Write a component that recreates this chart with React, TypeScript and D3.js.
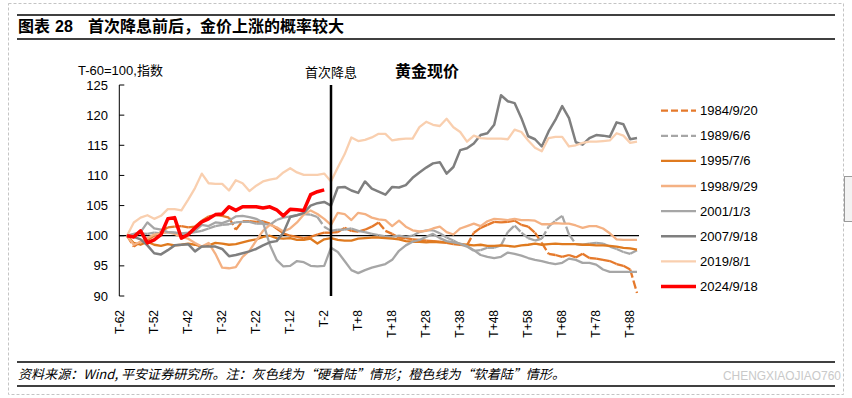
import * as d3 from "d3";
import { useRef, useEffect } from "react";

// T-60 .. T+90, one value every 2 trading days, T-60 = 100
const days = d3.range(-60, 91, 2);

const tickDays = [-62, -52, -42, -32, -22, -12, -2, 8, 18, 28, 38, 48, 58, 68, 78, 88];
const tickLabels = ["T-62", "T-52", "T-42", "T-32", "T-22", "T-12", "T-2", "T+8", "T+18", "T+28", "T+38", "T+48", "T+58", "T+68", "T+78", "T+88"];
const yTicks = [90, 95, 100, 105, 110, 115, 120, 125];

const s1984 = [
  100, 98.2, 99, 99.3, 100, 100.6, 101.4, 101.5, 101.6, 101.4,
  101.5, 102.5, 103.2, 103.4, 103.3, 103, 101, 102.4, 102.4, 102.3,
  102.4, 102, 101.2, 100.4, 100, 99.8, 99.6, 99.8, 100.2, 100.5,
  100.5, 100.6, 101.3, 100.8, 100.7, 101, 101.5, 102.2, 100.8, 100.3,
  99.7, 99.6, 99.4, 99.3, 99.2, 99.1, 99, 98.8, 98.6, 98.5,
  98.4, 100.5, 101.3, 101.8, 102.3, 102.2, 102.3, 102.5, 101.8, 101.5,
  100.5, 98.8, 97, 96.8, 96.5, 96.8, 96.4, 97, 96.3, 96.2,
  96, 95.8, 95.3, 95, 94.4, 90.5
];
const s1989 = [
  100, 100.2, 100.4, 100.3, 100.5, 100.4, 100.6, 100.5, 100.3, 100.4,
  100.6, 100.8, 101.2, 101.6, 101.8, 101.9, 102.2, 102.3, 102.3, 102,
  102, 101.8, 102.6, 103, 103.2, 103.4, 103.6, 103.5, 103.1, 101.5,
  100.8, 101, 101, 101.2, 100.8, 100.6, 100.3, 100.1, 99.9, 99.8,
  100, 99.8, 100, 100.6, 100.9, 100.9, 100.4, 99.7, 99.2, 98.6,
  98.2, 97.5, 97.6, 98, 98, 98.4, 100.6, 101.7, 100.5, 99.6,
  99.2, 99.5, 101.5, 102.5, 103.3, 100.2, 98.6, 98.5, 98.7, 98.8,
  98.7, 98.2, 97.8, 97.3, 97, 97.6
];
const s1995 = [
  100, 98.8, 98.5, 99, 98.5, 98.3, 98.6, 98.4, 98.5, 98.7,
  98.5, 98.2, 98.4, 98.8, 98.7, 98.5, 98.6, 98.9, 99.2, 99.4,
  99.8, 100, 99.6, 99.5, 99.6, 99.3, 99.3, 99.5, 98.7, 99.4,
  99.6, 99.3, 99.2, 99.2, 99.5, 99.6, 99.7, 99.7, 99.6, 99.5,
  99.4, 99.1, 99, 99, 98.9, 99, 98.9, 98.9, 98.8, 98.6,
  98.5, 98.4, 98.5, 98.3, 98.3, 98.4, 98.3, 98.2, 98.4, 98.5,
  98.7, 98.5, 98.6, 98.7, 98.6, 98.6, 98.6, 98.5, 98.5, 98.4,
  98.4, 98.3, 98.2, 98, 97.9, 97.7
];
const s1998 = [
  100, 98.5, 99, 99.6, 100.2, 100.4, 100.6, 100.3, 99.8, 99.5,
  98.8, 98.2, 98.8, 97, 94.7, 94.6, 94.8, 96.5, 97.5, 99.2,
  100.8, 101.8, 101.4, 100.7, 101.2, 102.2, 103.5, 104.2, 103.6, 102.8,
  101.8, 103.8, 103.6, 102.6, 103.8, 103.6, 103, 102.7, 102.6, 101.6,
  102.5, 101.5, 100.9, 100.7, 100.8, 101.2, 101.5, 100.6, 100.2, 101.2,
  101.6, 102, 101.6, 102.4, 102.8, 102.7, 102.6, 102.8, 102.6, 102.6,
  102.5, 101.9, 101.9, 102.1, 102, 102, 101.7, 101.3, 101.6, 101.6,
  101.2, 100.4, 99.4, 99.3, 99.3, 99.3
];
const s2001 = [
  100, 100.3, 100.6, 102.2, 101.2, 101, 100.6, 100.5, 100.4, 100.5,
  100.8, 101.8, 101.6, 102.2, 102.1, 102.5, 103.2, 103.3, 103.1, 102.8,
  102.2, 98.5, 96, 94.9, 95, 95.8, 95.6, 95, 94.9, 95,
  98, 97.3, 95.8, 94.3, 93.8, 94.3, 94.7, 95, 95.3, 96,
  97.5, 98.4, 99, 99.3, 99.8, 100.3, 99.6, 99.1, 98.9, 98.7,
  98.3, 97.6, 96.8, 96.5, 96.3, 96.5, 97.2, 97, 96.7, 96.3,
  96, 95.8, 95.5, 95.3, 95.5, 96.2, 96, 95.5, 95.5, 95.2,
  94.4, 94, 94, 94, 94, 94
];
const s2007 = [
  100, 99.8, 99.4, 98.4, 97.1, 96.9, 97.6, 98.4, 98.5, 98.6,
  97.4, 98.2, 98.2, 98.2, 97.8, 96.6, 96.8, 97.1, 97.4, 97.8,
  98.4, 98.9, 99.1, 100.5, 103.1, 103.4, 103.8, 105, 105.4, 105.6,
  105, 108, 108.1, 107.5, 107.1, 109, 107.8, 107.3, 106.8, 108.1,
  108, 108.4, 109.6, 110.5, 111.3, 112, 112.2, 110.3, 111.4, 114.2,
  114.5, 115.3, 116.7, 117, 118.4, 123.3, 122.3, 122, 119.5, 116.5,
  116, 114.8, 117.3, 119.2, 121.5, 119.5, 115.5, 115.1, 116.2, 116.7,
  116.6, 116.4, 118.8, 118.5, 116, 116.2
];
const s2019 = [
  100, 102.2, 103, 103.4, 102.8, 103.3, 104.4, 104.4, 104.2, 106,
  107.9, 110.3, 108.7, 108.6, 108.6, 107.5, 109.2, 108.7, 107.4, 108.3,
  109, 109.3, 109.5, 110.5, 111.2, 110.5, 110.1, 110.1, 110.1, 110.3,
  109, 111.3, 113.5, 116.3, 115.7, 115.9, 116.3, 116.9, 116.9, 115.8,
  116, 116.1, 116.1, 118, 118.9, 118.4, 118.2, 119.4, 118, 117.2,
  115.6, 116.6, 116.2, 116.1, 116.1, 116.1, 116, 117.6, 117.2, 115.8,
  114.6, 114, 116.2, 116.4, 116.4, 114.8, 115, 115.4, 115.6, 115.6,
  115.7, 115.8, 117, 116.6, 115.4, 115.6
];
// current cycle, only up to T-2
const s2024 = [
  100, 99.8, 100.8, 98.8, 99.3, 100.2, 102.8, 103, 99.6, 100.2,
  101.3, 102.3, 102.8, 103.5, 103.6, 104.8, 104.2, 104.8, 104.8, 104.8,
  104.6, 104.8, 104.3, 103.3, 104.4, 104.3, 104.2, 106.8, 107.3, 107.6
];

const seriesList = [
  { name: "1984/9/20", values: s1984, color: "#E5792B", dash: true, w: 2.3 },
  { name: "1989/6/6", values: s1989, color: "#A6A6A6", dash: true, w: 2.3 },
  { name: "1995/7/6", values: s1995, color: "#DF7A1F", dash: false, w: 2.3 },
  { name: "1998/9/29", values: s1998, color: "#F4B183", dash: false, w: 2.3 },
  { name: "2001/1/3", values: s2001, color: "#A6A6A6", dash: false, w: 2.3 },
  { name: "2007/9/18", values: s2007, color: "#7F7F7F", dash: false, w: 2.5 },
  { name: "2019/8/1", values: s2019, color: "#F9CFAF", dash: false, w: 2.3 },
  { name: "2024/9/18", values: s2024, color: "#FF0000", dash: false, w: 3.5 },
];

const latin = "'Liberation Sans', Arial, 'Noto Sans CJK SC', sans-serif";
const cjk = "'Noto Sans CJK SC', 'Liberation Sans', sans-serif";

const App = () => {
  const ref = useRef(null);

  useEffect(() => {
    const svg = d3.select(ref.current);
    svg.selectAll("*").remove();

    const x = d3.scaleLinear().domain([-62, 90]).range([120.2, 637]);
    const y = d3.scaleLinear().domain([90, 125]).range([296, 85]);
    const axisX = x(-62) - 0.9;

    // frame + headers
    svg.append("rect").attr("x", 8.5).attr("y", 3.5).attr("width", 835).attr("height", 391)
      .attr("fill", "none").attr("stroke", "#c4c4c4").attr("stroke-dasharray", "3,2");
    svg.append("rect").attr("x", 844.5).attr("y", 176.5).attr("width", 10).attr("height", 45)
      .attr("fill", "#f3f3f3").attr("stroke", "#9a9a9a");

    [15, 39, 362, 386].forEach(ly => {
      svg.append("line").attr("x1", 17).attr("x2", 835).attr("y1", ly).attr("y2", ly)
        .attr("stroke", "#000").attr("stroke-width", 1.5);
    });

    const title = svg.append("g").style("font-family", cjk).style("font-weight", "bold")
      .style("font-size", "16px").attr("fill", "#000");
    title.append("text").attr("x", 18).attr("y", 32).text("图表");
    title.append("text").attr("x", 55).attr("y", 32).style("font-family", latin).text("28");
    title.append("text").attr("x", 88).attr("y", 32).text("首次降息前后，金价上涨的概率较大");

    svg.append("text").attr("x", 18).attr("y", 379).style("font-family", cjk)
      .style("font-size", "13px").style("font-style", "italic")
      .attr("textLength", 547).attr("lengthAdjust", "spacingAndGlyphs")
      .text("资料来源：Wind, 平安证券研究所。注：灰色线为“硬着陆”情形；橙色线为“软着陆”情形。");
    svg.append("text").attr("x", 723).attr("y", 380).style("font-family", latin)
      .style("font-size", "12px").attr("fill", "#c9c9c9")
      .attr("textLength", 118).attr("lengthAdjust", "spacingAndGlyphs")
      .text("CHENGXIAOJIAO760");

    // y axis
    svg.append("line").attr("x1", axisX).attr("x2", axisX).attr("y1", y(125)).attr("y2", y(90))
      .attr("stroke", "#000").attr("stroke-width", 1);
    yTicks.forEach(t => {
      svg.append("line").attr("x1", axisX).attr("x2", axisX + 5).attr("y1", y(t)).attr("y2", y(t))
        .attr("stroke", "#000").attr("stroke-width", 1);
      svg.append("text").attr("x", 108).attr("y", y(t)).attr("text-anchor", "end")
        .attr("dominant-baseline", "central").style("font-family", latin).style("font-size", "13px")
        .text(t);
    });

    // category axis crosses at 100
    svg.append("line").attr("x1", axisX).attr("x2", 639).attr("y1", y(100)).attr("y2", y(100))
      .attr("stroke", "#000").attr("stroke-width", 1.2);

    tickDays.forEach((d, i) => {
      svg.append("text")
        .attr("transform", `translate(${x(d)},${310}) rotate(-90)`)
        .attr("text-anchor", "end").attr("dominant-baseline", "central")
        .style("font-family", latin).style("font-size", "12px")
        .text(tickLabels[i]);
    });

    // series
    const line = d3.line().x((d, i) => x(days[i])).y(d => y(d));
    seriesList.forEach(s => {
      if (s.dash) {
        // dash pattern restarts on every segment, like the source
        const segs = d3.pairs(s.values.map((v, i) => [x(days[i]), y(v)]));
        svg.append("g").selectAll("path").data(segs).enter().append("path")
          .attr("d", d => d3.line()(d))
          .attr("fill", "none").attr("stroke", s.color).attr("stroke-width", s.w)
          .attr("stroke-dasharray", "8.5,3");
      } else {
        svg.append("path").attr("d", line(s.values))
          .attr("fill", "none").attr("stroke", s.color).attr("stroke-width", s.w)
          .attr("stroke-linejoin", "round");
      }
    });

    // first cut marker
    svg.append("line").attr("x1", x(0)).attr("x2", x(0)).attr("y1", y(125)).attr("y2", y(90))
      .attr("stroke", "#000").attr("stroke-width", 2.5);
    svg.append("text").attr("x", x(0)).attr("y", 71).attr("text-anchor", "middle")
      .attr("dominant-baseline", "central").style("font-family", cjk).style("font-size", "13px")
      .text("首次降息");
    svg.append("text").attr("x", 78).attr("y", 70).attr("dominant-baseline", "central")
      .style("font-family", latin).style("font-size", "13px").text("T-60=100,指数");
    svg.append("text").attr("x", 395).attr("y", 70).attr("dominant-baseline", "central")
      .style("font-family", cjk).style("font-size", "16px").style("font-weight", "bold")
      .text("黄金现价");

    // legend
    seriesList.forEach((s, i) => {
      const ly = 110.7 + 25.1 * i;
      svg.append("line").attr("x1", 661).attr("x2", 696).attr("y1", ly).attr("y2", ly)
        .attr("stroke", s.color).attr("stroke-width", s.w)
        .attr("stroke-dasharray", s.dash ? "7,3" : null);
      svg.append("text").attr("x", 700).attr("y", ly).attr("dominant-baseline", "central")
        .style("font-family", latin).style("font-size", "13px").text(s.name);
    });
  }, []);

  return (
    <svg ref={ref} width={852} height={398}
      style={{ position: "absolute", left: 0, top: 0, background: "#fff" }} />
  );
};

export default App;
